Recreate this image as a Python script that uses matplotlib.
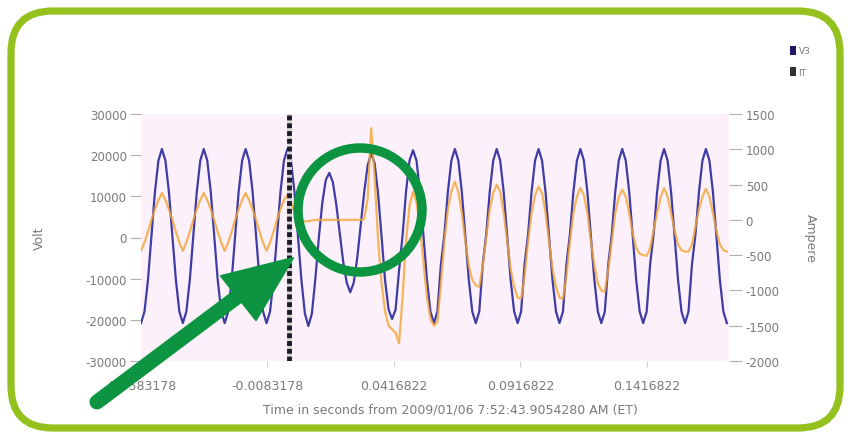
import numpy as np
import matplotlib
matplotlib.use("Agg")
import matplotlib.pyplot as plt
from matplotlib.patches import FancyBboxPatch, Circle, Polygon, Patch
from matplotlib.lines import Line2D
from matplotlib.transforms import IdentityTransform

# ---------------- data ----------------
SAMPLE_START = -0.0583178      # s, first sample time
SAMPLE_STEP = 0.00137846       # s, sample spacing (12 samples per cycle)
TRIGGER_T = 0.0                # s, dashed trigger marker

# Voltage (V), one row per cycle
volt_c0 = [-20800, -18000, -10300, 400, 11100, 18700, 21500, 18700, 11100, 400, -10300, -18000]
volt_c1 = [-20800, -18000, -10300, 400, 11100, 18700, 21500, 18700, 11100, 400, -10300, -18000]
volt_c2 = [-20800, -18000, -10300, 400, 11100, 18700, 21500, 18700, 11100, 400, -10300, -18000]
volt_c3 = [-20800, -18000, -10300, 400, 11100, 18700, 21500, 18700, 11100, 400, -10300, -18500]
volt_c4 = [-21500, -18500, -10000, 0, 8500, 14000, 15700, 13500, 8000, 1000, -6000, -11000]
volt_c5 = [-13300, -11000, -5000, 3000, 11000, 17500, 20500, 18000, 10500, 0, -10500, -17500]
volt_c6 = [-19800, -17500, -8000, 500, 11100, 18700, 21200, 18700, 11100, 400, -10300, -18000]
volt_c7 = [-20800, -18000, -6500, 800, 11100, 18700, 21500, 18700, 11100, 400, -10300, -18000]
volt_c8 = [-20800, -18000, -6500, 800, 11100, 18700, 21500, 18700, 11100, 400, -10300, -18000]
volt_c9 = [-20800, -18000, -6500, 800, 11100, 18700, 21500, 18700, 11100, 400, -10300, -18000]
volt_c10 = [-20800, -18000, -6500, 800, 11100, 18700, 21500, 18700, 11100, 400, -10300, -18000]
volt_c11 = [-20800, -18000, -6500, 800, 11100, 18700, 21500, 18700, 11100, 400, -10300, -18000]
volt_c12 = [-20800, -18000, -6500, 800, 11100, 18700, 21500, 18700, 11100, 400, -10300, -18000]
volt_c13 = [-20800, -18000, -6500, 800, 11100, 18700, 21500, 18700, 11100, 400, -10300, -18000]
volt_end = [-20800]

# Current (A), one row per cycle
amp_c0 = [-440, -320, -170, 0, 150, 280, 380, 280, 150, 0, -170, -320]
amp_c1 = [-440, -320, -170, 0, 150, 280, 380, 280, 150, 0, -170, -320]
amp_c2 = [-440, -320, -170, 0, 150, 280, 380, 280, 150, 0, -170, -320]
amp_c3 = [-440, -320, -170, 0, 150, 280, 350, 250, 120, 20, -30, -20]
amp_c4 = [-20, -10, 0, 0, 0, 0, 0, 0, 0, 0, 0, 0]
amp_c5 = [0, 0, 0, 0, 10, 300, 1300, 600, -300, -900, -1300, -1500]
amp_c6 = [-1550, -1600, -1750, -1100, -300, 200, 400, 250, -100, -600, -1100, -1400]
amp_c7 = [-1500, -1450, -900, -300, 150, 400, 540, 400, 100, -300, -650, -850]
amp_c8 = [-930, -950, -650, -250, 150, 380, 500, 400, 100, -300, -700, -950]
amp_c9 = [-1100, -1120, -800, -300, 100, 350, 470, 380, 100, -300, -700, -950]
amp_c10 = [-1100, -1120, -800, -300, 100, 330, 450, 350, 100, -300, -650, -900]
amp_c11 = [-1000, -1020, -700, -300, 100, 320, 430, 330, 100, -200, -400, -480]
amp_c12 = [-500, -510, -400, -150, 100, 320, 450, 330, 100, -150, -350, -430]
amp_c13 = [-450, -450, -350, -100, 150, 330, 440, 330, 100, -150, -350, -430]
amp_end = [-450]

volt_cycles = [volt_c0, volt_c1, volt_c2, volt_c3, volt_c4, volt_c5, volt_c6,
               volt_c7, volt_c8, volt_c9, volt_c10, volt_c11, volt_c12, volt_c13, volt_end]
amp_cycles = [amp_c0, amp_c1, amp_c2, amp_c3, amp_c4, amp_c5, amp_c6,
              amp_c7, amp_c8, amp_c9, amp_c10, amp_c11, amp_c12, amp_c13, amp_end]

volts = np.concatenate([np.asarray(c, float) for c in volt_cycles])
amps = np.concatenate([np.asarray(c, float) for c in amp_cycles])
time = SAMPLE_START + SAMPLE_STEP * np.arange(len(volts))

x_ticks = [-0.0583178, -0.0083178, 0.0416822, 0.0916822, 0.1416822]
x_tick_labels = ["-0.0583178", "-0.0083178", "0.0416822", "0.0916822", "0.1416822"]
v_ticks = [-30000, -20000, -10000, 0, 10000, 20000, 30000]
a_ticks = [-2000, -1500, -1000, -500, 0, 500, 1000, 1500]
x_label = "Time in seconds from 2009/01/06 7:52:43.9054280 AM (ET)"
series_names = ["V3", "IT"]

# ---------------- figure ----------------
W, H = 848, 439
plt.rcParams["font.family"] = ["DejaVu Sans"]
fig = plt.figure(figsize=(W / 100, H / 100), dpi=100)
fig.patch.set_facecolor("white")

left_px, right_px, top_px, bot_px = 141, 729, 115, 362
ax = fig.add_axes([left_px / W, 1 - bot_px / H, (right_px - left_px) / W, (bot_px - top_px) / H])
ax.set_facecolor("#fcf0fa")
for s in ax.spines.values():
    s.set_visible(False)

BLUE = "#3f3ca6"
ORANGE = "#f2a534"
GRAY = "#7a7a7a"

ax.plot(time, volts, color=BLUE, lw=1.6, solid_joinstyle="round", zorder=3)
ax.set_xlim(-0.0583178, 0.17411)
ax.set_ylim(-30000, 30000)
ax.set_yticks(v_ticks)
ax.set_yticklabels([str(v) for v in v_ticks])
ax.set_xticks(x_ticks)
ax.set_xticklabels(x_tick_labels)
ax.tick_params(axis="y", length=8, width=0.8, color="#b0b0b0", labelcolor=GRAY, labelsize=8.5, pad=2)
ax.tick_params(axis="x", length=4, width=0.8, color="#d0d0d0", labelcolor=GRAY, labelsize=9, pad=9)
ax.set_ylabel("Volt", color=GRAY, fontsize=9, labelpad=29)

ax2 = ax.twinx()
for s in ax2.spines.values():
    s.set_visible(False)
ax2.plot(time, amps, color=ORANGE, lw=1.6, alpha=0.8, solid_joinstyle="round", zorder=3)
ax2.set_ylim(-2000, 1500)
ax2.set_yticks(a_ticks)
ax2.set_yticklabels([str(v) for v in a_ticks])
ax2.tick_params(axis="y", length=9, width=0.8, color="#b0b0b0", labelcolor=GRAY, labelsize=8.5, pad=3)
ax2.set_ylabel("Ampere", color=GRAY, fontsize=9, rotation=270, labelpad=27)

# trigger marker
ax2.axvline(TRIGGER_T, color="#d8d8d8", lw=3.5, zorder=5)
ax2.axvline(TRIGGER_T, color="#1e1a2a", lw=3.5, dashes=(1.0, 0.6), zorder=6)

fig.text(450 / W, 1 - 410 / H, x_label, ha="center", va="center", color=GRAY, fontsize=9)

# legend
handles = [Patch(facecolor="#1c1a66", edgecolor="none"), Patch(facecolor="#3a3030", edgecolor="none")]
fig.legend(handles, series_names, loc="upper left", bbox_to_anchor=(785 / W, 1 - 42 / H),
           frameon=False, fontsize=6.5, handlelength=0.7, handleheight=1.2,
           handletextpad=0.3, labelspacing=1.3, labelcolor=GRAY, borderpad=0)

# ---------------- green annotations (pixel space) ----------------
pix = IdentityTransform()
border = FancyBboxPatch((11, H - 429), 829, 417, boxstyle="round,pad=0,rounding_size=42",
                        fill=False, edgecolor="#95c11f", linewidth=5.2, transform=pix)
fig.add_artist(border)

circ = Circle((360, H - 211), 62, fill=False, edgecolor="#0d9440", linewidth=6.8, transform=pix, zorder=10)
fig.add_artist(circ)

shaft = Line2D([97, 245], [H - 403, H - 292], color="#0d9440", linewidth=10.8,
               solid_capstyle="round", transform=pix, zorder=10)
fig.add_artist(shaft)
head = Polygon([(293, H - 259), (221, H - 277), (256, H - 321)], closed=True,
               facecolor="#0d9440", edgecolor="#0d9440", linewidth=1.5, joinstyle="round",
               transform=pix, zorder=10)
fig.add_artist(head)

fig.savefig("out.png", dpi=100, facecolor="white")
